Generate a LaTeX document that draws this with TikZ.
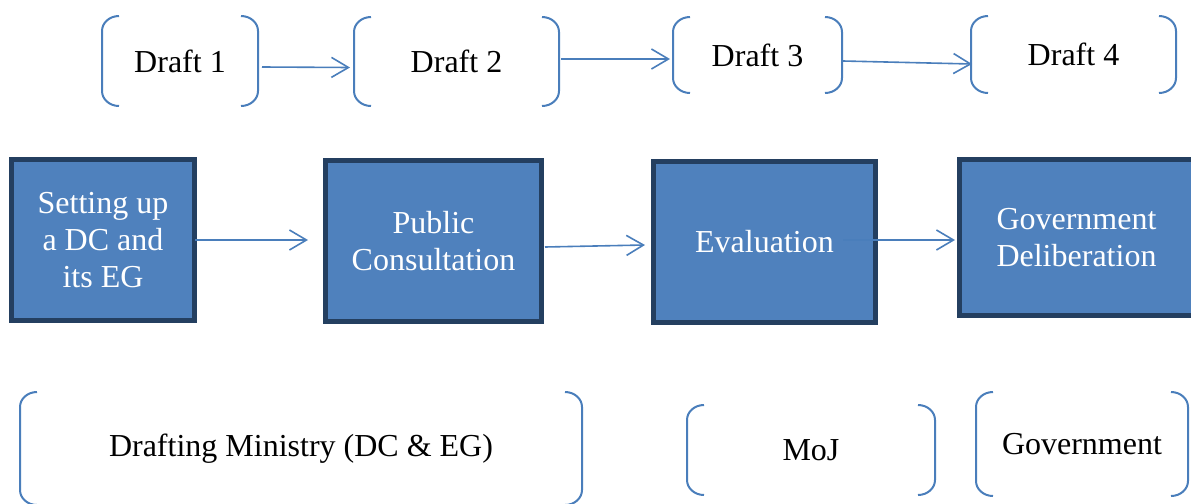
\documentclass[tikz,border=0pt]{standalone}
\usepackage{fontspec}
\setmainfont{Liberation Serif}
\usetikzlibrary{arrows.meta}
\definecolor{boxfill}{HTML}{4F81BD}
\definecolor{boxline}{HTML}{243F60}
\definecolor{brkcol}{HTML}{4A7EBB}
\tikzset{
 stage/.style={draw=boxline, line width=2.5pt, fill=boxfill, text=white, align=center,
   font=\fontsize{16}{18.5}\selectfont, inner sep=0pt},
 brkbox/.style={inner sep=0pt, outer sep=0pt, font=\fontsize{16}{19}\selectfont, align=center},
 brk/.style={draw=brkcol, line width=1pt},
 arr/.style={draw=brkcol, line width=0.8pt, -{Straight Barb[length=8.5pt,width=10pt]}},
}
\newcommand\drawbrk[1]{%
  \draw[brk] ([xshift=8.5pt]#1.north west) arc[start angle=90,end angle=180,x radius=8.5pt,y radius=7.5pt]
     -- ([yshift=7.5pt]#1.south west) arc[start angle=180,end angle=270,x radius=8.5pt,y radius=7.5pt];
  \draw[brk] ([xshift=-8.5pt]#1.north east) arc[start angle=90,end angle=0,x radius=8.5pt,y radius=7.5pt]
     -- ([yshift=7.5pt]#1.south east) arc[start angle=0,end angle=-90,x radius=8.5pt,y radius=7.5pt];
}
\begin{document}
\begin{tikzpicture}[x=0.5pt,y=-0.5pt]
\useasboundingbox (0,0) rectangle (1191,504);
% draft brackets
\node[brkbox, minimum width=78pt, minimum height=45pt] (d1) at (180,61) {Draft 1};
\node[brkbox, minimum width=102.5pt, minimum height=44.5pt] (d2) at (456.5,61.5) {Draft 2};
\node[brkbox, minimum width=84.5pt, minimum height=38pt] (d3) at (757.5,55) {Draft 3};
\node[brkbox, minimum width=102.5pt, minimum height=38.5pt] (d4) at (1073.5,54.5) {Draft 4};
\drawbrk{d1}\drawbrk{d2}\drawbrk{d3}\drawbrk{d4}
% stage boxes
\node[stage, minimum width=91.5pt, minimum height=80.5pt] (b1) at (103,240) {Setting up\\a DC and\\its EG};
\node[stage, minimum width=108pt, minimum height=80.5pt] (b2) at (433.5,241) {Public\\Consultation};
\node[stage, minimum width=111pt, minimum height=80.5pt] (b3) at (764.5,242) {Evaluation};
\node[stage, minimum width=117pt, minimum height=78pt] (b4) at (1076.5,237.5) {Government\\Deliberation};
% actor brackets
\node[brkbox, minimum width=281pt, minimum height=56.5pt] (a1) at (301,448.5) {Drafting Ministry (DC \& EG)};
\node[brkbox, minimum width=124pt, minimum height=45pt] (a2) at (811,450) {MoJ};
\node[brkbox, minimum width=106pt, minimum height=52pt] (a3) at (1082,444) {Government};
\drawbrk{a1}\drawbrk{a2}\drawbrk{a3}
% draft arrows
\draw[arr] ([xshift=2pt,yshift=-3pt]d1.east) -- ([xshift=-2pt,yshift=-3pt]d2.west);
\draw[arr] ([xshift=1pt,yshift=1.25pt]d2.east) -- ([xshift=-1.5pt,yshift=-2pt]d3.west);
\draw[arr] ([xshift=0.5pt,yshift=-3pt]d3.east) -- ([xshift=0.5pt,yshift=-4.75pt]d4.west);
% stage arrows
\draw[arr] ([xshift=-1pt]b1.east) -- ([xshift=-7.5pt]b2.west |- b1.east);
\draw[arr] ([xshift=0.5pt,yshift=-3pt]b2.east) -- ([xshift=-3pt,yshift=-1.5pt]b3.west);
\draw[arr] ([xshift=-17.5pt,yshift=1pt]b3.east) -- ([xshift=-1pt,yshift=-1.25pt]b4.west);
\end{tikzpicture}
\end{document}
